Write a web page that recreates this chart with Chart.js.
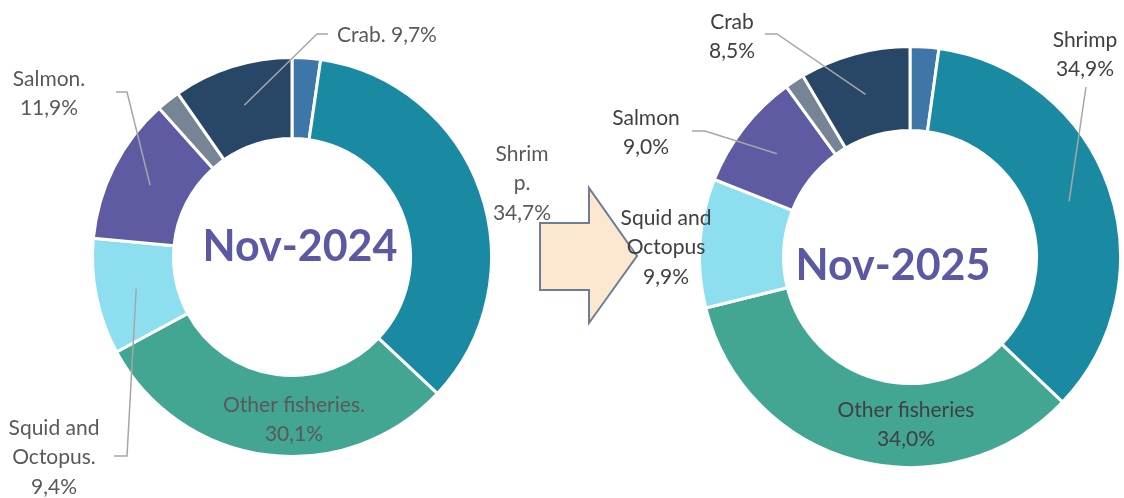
<!DOCTYPE html>
<html>
<head>
<meta charset="utf-8">
<script src="https://cdn.jsdelivr.net/npm/chart.js@4.4.1/dist/chart.umd.min.js"></script>
<style>
  html, body { margin: 0; padding: 0; background: #fff; }
  #wrap { position: relative; width: 1124px; height: 498px; }
  #wrap canvas { position: absolute; left: 0; top: 0; }
</style>
</head>
<body>
<div id="wrap">
  <canvas id="c24" width="1124" height="498"></canvas>
  <canvas id="c25" width="1124" height="498"></canvas>
</div>
<script>
// ── DATA ──────────────────────────────────────────────────────
// two small slices have no label in the source
const CATEGORIES  = ['', 'Shrimp', 'Other fisheries', 'Squid and Octopus', 'Salmon', '', 'Crab'];
const VALUES_2024 = [2.3, 34.7, 30.1, 9.4, 11.9, 1.9, 9.7];
const VALUES_2025 = [2.2, 34.9, 34.0, 9.9, 9.0, 1.5, 8.5];
const PERIODS     = ['Nov-2024', 'Nov-2025'];
const COLORS      = ['#3f76a8', '#1a8aa2', '#42a692', '#8ddfef', '#5e5ba3', '#768496', '#284766'];

const fmtPct = v => v.toFixed(1).replace('.', ',') + '%';

// ── LABELS WITH LEADER LINES ──────────────────────────────────
const calloutPlugin = {
  id: 'callouts',
  afterDatasetsDraw(chart, args, opts) {
    const ctx    = chart.ctx;
    const meta   = chart.getDatasetMeta(0);
    const values = chart.data.datasets[0].data;
    ctx.save();

    opts.items.forEach(it => {
      const name = CATEGORIES[it.i] + opts.sep;
      const pct  = fmtPct(values[it.i]);
      let lines = [];
      if (it.inline) {
        lines = [name + ' ' + pct];
      } else {
        let prev = 0;
        (it.breaks || []).forEach(b => { lines.push(name.slice(prev, b).trim()); prev = b; });
        lines.push(name.slice(prev).trim());
        lines.push(pct);
      }

      if (it.leader) {
        const p = meta.data[it.i].tooltipPosition();
        ctx.strokeStyle = '#a6a6a6';
        ctx.lineWidth = 1.5;
        ctx.beginPath();
        ctx.moveTo(it.leader[0][0], it.leader[0][1]);
        it.leader.slice(1).forEach(pt => ctx.lineTo(pt[0], pt[1]));
        ctx.lineTo(p.x, p.y);
        ctx.stroke();
      }

      ctx.font = '21px Lato';
      ctx.fillStyle = opts.color;
      ctx.textAlign = it.align || 'center';
      ctx.textBaseline = 'middle';
      lines.forEach((t, k) => ctx.fillText(t, it.x, it.y + k * opts.lineHeight));
    });

    // period in the hole
    ctx.font = 'bold 43px Lato';
    ctx.fillStyle = '#5c59a3';
    ctx.textAlign = 'center';
    ctx.textBaseline = 'alphabetic';
    ctx.fillText(opts.title, opts.titleX, opts.titleY);
    ctx.restore();
  }
};

// ── BLOCK ARROW BETWEEN THE RINGS ─────────────────────────────
const arrowPlugin = {
  id: 'arrow',
  beforeDatasetsDraw(chart, args, opts) {
    if (!opts.show) return;
    const ctx = chart.ctx;
    ctx.save();
    ctx.beginPath();
    opts.points.forEach((p, k) => k ? ctx.lineTo(p[0], p[1]) : ctx.moveTo(p[0], p[1]));
    ctx.closePath();
    ctx.fillStyle = '#fce8d0';
    ctx.fill();
    ctx.strokeStyle = '#6e7d92';
    ctx.lineWidth = 2;
    ctx.stroke();
    ctx.restore();
  }
};

function makeDonut(id, values, padding, radius, cutout, callouts, arrow) {
  return new Chart(document.getElementById(id), {
    type: 'doughnut',
    data: {
      labels: CATEGORIES,
      datasets: [{
        data: values,
        backgroundColor: COLORS,
        borderColor: '#ffffff',
        borderWidth: 3,
      }],
    },
    options: {
      responsive: false,
      animation: false,
      events: [],
      radius: radius,
      cutout: cutout,
      layout: { padding: padding },
      plugins: {
        legend:   { display: false },
        tooltip:  { enabled: false },
        callouts: callouts,
        arrow:    arrow,
      },
    },
    plugins: [arrowPlugin, calloutPlugin],
  });
}

makeDonut('c24', VALUES_2024, { left: 0, right: 540, top: 16, bottom: 0 }, 199.5, '59.4%', {
  sep: '.', color: '#595959', lineHeight: 29.5,
  title: PERIODS[0], titleX: 300, titleY: 261,
  items: [
    { i: 6, inline: true, align: 'left', x: 337, y: 35, leader: [[328, 34], [317, 34]] },
    { i: 1, breaks: [5], x: 522, y: 154 },
    { i: 2, x: 294, y: 405 },
    { i: 3, breaks: [9], x: 54, y: 428, leader: [[114, 456], [127, 456]] },
    { i: 4, x: 49, y: 79, leader: [[116, 92], [127, 92]] },
  ],
}, {
  show: true,
  points: [[540, 223], [589, 223], [589, 188], [637, 256], [589, 323], [589, 290], [540, 290]],
});

makeDonut('c25', VALUES_2025, { left: 696, right: 0, top: 16, bottom: 0 }, 210.5, '60.1%', {
  sep: '', color: '#404040', lineHeight: 29.5,
  title: PERIODS[1], titleX: 893, titleY: 280,
  items: [
    { i: 6, x: 732, y: 22, leader: [[765, 34], [777, 34]] },
    { i: 1, x: 1085, y: 40, leader: [[1086, 87]] },
    { i: 2, x: 906, y: 410 },
    { i: 3, breaks: [9], x: 666, y: 218 },
    { i: 4, x: 646, y: 118, leader: [[692, 131], [705, 131]] },
  ],
}, { show: false });
</script>
</body>
</html>
